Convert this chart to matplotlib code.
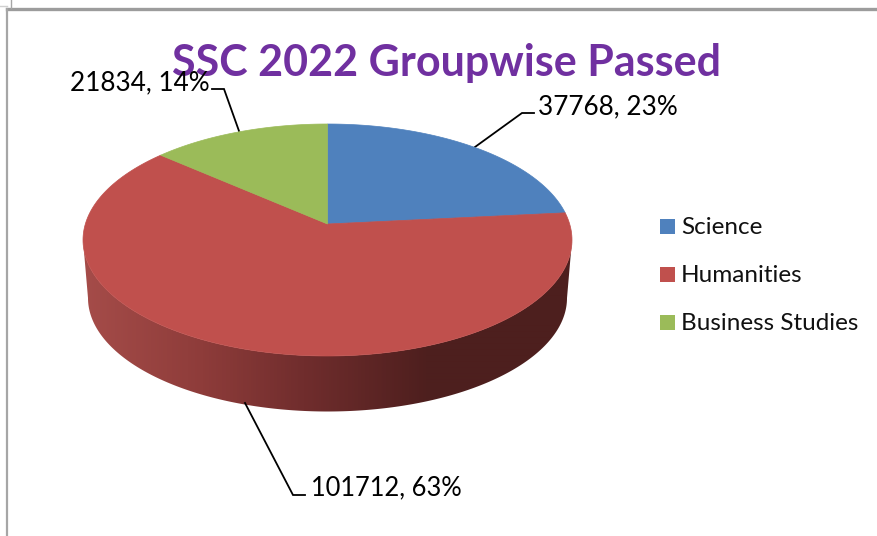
import numpy as np
import matplotlib
matplotlib.use("Agg")
import matplotlib.pyplot as plt
from matplotlib.colors import LinearSegmentedColormap
from matplotlib.patches import Polygon, Rectangle

plt.rcParams['font.family'] = ['Lato', 'DejaVu Sans']

title = "SSC 2022 Groupwise Passed"
groups = ["Science", "Humanities", "Business Studies"]
passed = [37768, 101712, 21834]
colors = ["#4F81BD", "#C0504D", "#9BBB59"]

# pie geometry in pixels, the apex sits above the ellipse middle (perspective)
cx, apex_y = 327.5, 224.0
top_y, bottom_y = 124.0, 356.0
half_w = 244.5
persp = 0.1379


def rim(theta):
    # theta is clockwise from 12 o'clock, radians
    u, v = np.sin(theta), np.cos(theta)
    b = (top_y * (1 + persp) - apex_y)
    d = 1 + persp * v
    k = half_w * np.sqrt(1 - persp ** 2)
    return cx + k * u / d, (apex_y + b * v) / d


fig = plt.figure(figsize=(8.78, 5.36), dpi=100)
ax = fig.add_axes([0, 0, 1, 1])
ax.axis("off")

# window borders from the screenshot
ax.plot([7.5, 878], [9, 9], color="#9C9C9C", lw=2.4, zorder=1)
ax.plot([7.5, 7.5], [9, 536], color="#A6A6A6", lw=1.6, zorder=1)
ax.plot([0, 7], [6, 6], color="#D0D0D0", lw=1, zorder=1)
ax.plot([11.5, 11.5], [0, 8], color="#A6A6A6", lw=1, zorder=1)

# side wall, a horizontal gradient clipped to the wall outline
side_cmap = LinearSegmentedColormap.from_list(
    "side", [(0.0, "#A54C49"), (0.24, "#8E3C3A"), (0.45, "#702D2D"),
             (0.70, "#4E1F1E"), (1.0, "#4D1F1E")])
phi = np.linspace(0, np.pi, 241)
ell_y, ell_ry = (top_y + bottom_y) / 2, (bottom_y - top_y) / 2
up_x, up_y = cx + half_w * np.cos(phi), ell_y + ell_ry * np.sin(phi)
lo_x, lo_y = cx + 239.5 * np.cos(phi), 298.0 + 113.5 * np.sin(phi)
wall = Polygon(np.column_stack([np.r_[up_x, lo_x[::-1]], np.r_[up_y, lo_y[::-1]]]),
               closed=True, facecolor="none", edgecolor="none")
ax.add_patch(wall)
grad = ax.imshow(np.linspace(0, 1, 490).reshape(1, -1), cmap=side_cmap, vmin=0, vmax=1,
                 extent=(84, 574, 420, 230), aspect="auto", interpolation="bilinear", zorder=2)
grad.set_clip_path(wall)

ax.set_xlim(0, 878)
ax.set_ylim(536, 0)

# top face
total = sum(passed)
start = 0.0
for value, color in zip(passed, colors):
    end = start + 2 * np.pi * value / total
    th = np.linspace(start, end, 200)
    xs, ys = rim(th)
    pts = np.column_stack([np.r_[cx, xs], np.r_[apex_y, ys]])
    ax.add_patch(Polygon(pts, closed=True, facecolor=color, edgecolor=color, lw=0.5, zorder=3))
    start = end

ax.text(447, 63, title, color="#7030A0", fontsize=31, fontweight="bold",
        ha="center", va="center", zorder=4)

# leader lines and data labels
leaders = [
    ([475, 522, 534], [147, 113, 113]),
    ([245, 293, 305], [403, 495, 495]),
    ([239, 224, 212], [131, 89, 89]),
]
label_pos = [(538, 114), (311, 495), (70, 90)]
label_size = [18.8, 18.4, 18.8]
for i, value in enumerate(passed):
    ax.plot(leaders[i][0], leaders[i][1], color="black", lw=1.3, zorder=2.5,
            solid_joinstyle="miter")
    pct = round(100 * value / total)
    ax.text(label_pos[i][0], label_pos[i][1], f"{value}, {pct}%", fontsize=label_size[i],
            color="black", ha="left", va="baseline", zorder=5)

# legend
legend_y = [226.5, 274.5, 322.5]
for name, color, y in zip(groups, colors, legend_y):
    ax.add_patch(Rectangle((660, y - 7.5), 15, 15, facecolor=color, edgecolor="none", zorder=3))
    ax.text(681, y + 8, name, fontsize=17.5, color="#111111", ha="left", va="baseline", zorder=5)

fig.savefig("out.png", dpi=100)
